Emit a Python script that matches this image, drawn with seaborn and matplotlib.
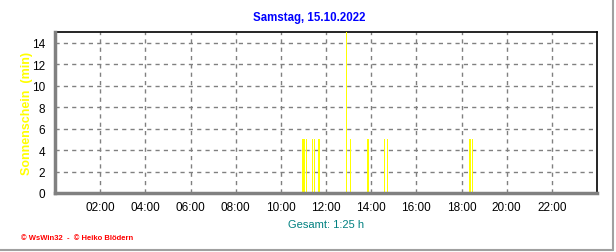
import matplotlib
matplotlib.use("Agg")
import matplotlib.pyplot as plt
import seaborn as sns
import numpy as np
import pandas as pd
from matplotlib.ticker import MultipleLocator, FixedLocator

# ---- data ----
times = ["10:57", "11:02", "11:08", "11:24", "11:29", "11:40", "11:43",
         "12:54", "13:05", "13:52", "14:36", "14:43", "18:23", "18:29"]
sunshine_min = [5, 5, 5, 5, 5, 5, 5, 15, 5, 5, 5, 5, 5, 5]
tick_hours = [2, 4, 6, 8, 10, 12, 14, 16, 18, 20, 22]
tick_labels = ["02:00", "04:00", "06:00", "08:00", "10:00", "12:00",
               "14:00", "16:00", "18:00", "20:00", "22:00"]
y_ticks = [0, 2, 4, 6, 8, 10, 12, 14]
title = "Samstag, 15.10.2022"
ylabel = "Sonnenschein  (min)"
total_text = "Gesamt: 1:25 h"
footer = "© WsWin32  -  © Heiko Blödern"

hours = [int(t[:2]) + int(t[3:]) / 60 for t in times]
df = pd.DataFrame({"hour": hours, "min": sunshine_min})

sns.set_style("white")
plt.rcParams["font.family"] = ["Liberation Sans", "DejaVu Sans"]

W, H = 616, 253
fig = plt.figure(figsize=(W / 100, H / 100), dpi=100)
fig.patch.set_facecolor("white")
ax = fig.add_axes([55 / W, 1 - 194 / H, (597 - 55) / W, (194 - 33) / H])

min_gap = np.min(np.diff(sorted(hours)))
bar_w = 0.06  # hours
sns.barplot(data=df, x="hour", y="min", native_scale=True, ax=ax,
            color="#FFFF00", saturation=1, width=bar_w / min_gap,
            linewidth=0, zorder=3)

ax.set_xlim(0, 24)
ax.set_ylim(0, 15)
ax.set_xlabel("")
ax.set_ylabel("")

ax.set_xticks(tick_hours, tick_labels)
ax.xaxis.set_minor_locator(MultipleLocator(0.5))
ax.yaxis.set_major_locator(FixedLocator(y_ticks))
ax.yaxis.set_minor_locator(MultipleLocator(1))

ax.grid(True, which="major", color="#808080", linestyle=(0, (3, 3)),
        linewidth=1, zorder=1)
ax.set_axisbelow(True)

ax.tick_params(axis="both", which="major", length=4, width=1, color="#808080",
               labelsize=8.5, labelcolor="black", direction="out", pad=2)
ax.tick_params(axis="both", which="minor", length=3, width=1, color="#808080",
               direction="out")
ax.tick_params(axis="y", which="major", pad=3)

for s in ["top", "right"]:
    ax.spines[s].set_color("black")
    ax.spines[s].set_linewidth(1.2)
for s in ["left", "bottom"]:
    ax.spines[s].set_color("#808080")
    ax.spines[s].set_linewidth(2.5)
    ax.spines[s].set_zorder(4)

fig.text(309 / W, 1 - 18 / H, title, ha="center", va="center",
         color="#0000FF", fontsize=8.3, fontweight="bold")
fig.text(27 / W, 1 - 113 / H, ylabel, ha="center", va="center",
         rotation=90, color="#FFFF00", fontsize=9, fontweight="bold")
fig.text(326 / W, 1 - 225 / H, total_text, ha="center", va="center",
         color="#008080", fontsize=8)
fig.text(21 / W, 1 - 239 / H, footer, ha="left", va="center",
         color="#FF0000", fontsize=5.5, fontweight="bold")

# outer frame (right and bottom gray lines)
fig.add_artist(plt.Line2D([613 / W, 613 / W], [1 - 251 / H, 1], color="#A0A0A0",
                          linewidth=1.5, transform=fig.transFigure))
fig.add_artist(plt.Line2D([0, 613 / W], [1 - 251 / H, 1 - 251 / H], color="#A0A0A0",
                          linewidth=1.5, transform=fig.transFigure))

fig.savefig("out.png", dpi=100, facecolor="white")
